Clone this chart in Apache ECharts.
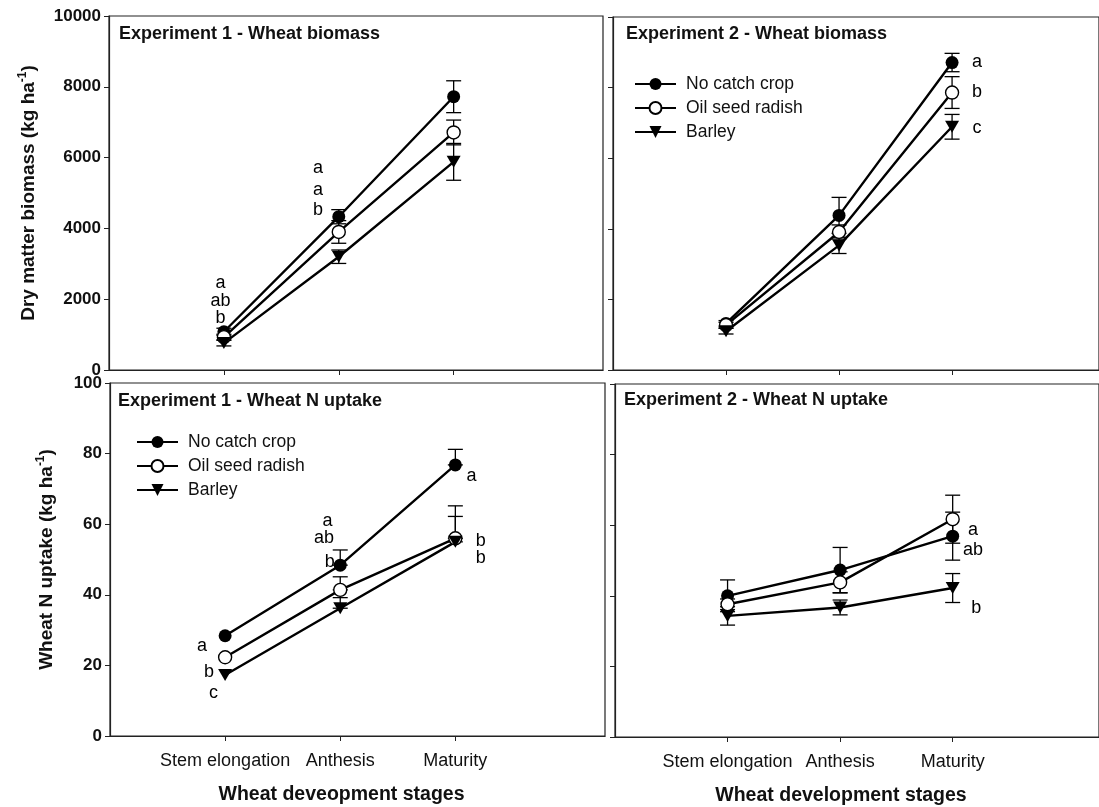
<!DOCTYPE html>
<html>
<head>
<meta charset="utf-8">
<script src="https://cdn.jsdelivr.net/npm/echarts@6/dist/echarts.min.js"></script>
<style>
html,body{margin:0;padding:0;background:#fff;}
#chart{width:1099px;height:807px;}
</style>
</head>
<body>
<div id="chart"></div>
<script>
// ---------- DATA ----------
const categories = ['Stem elongation', 'Anthesis', 'Maturity'];
const seriesNames = ['No catch crop', 'Oil seed radish', 'Barley'];
const panelTitles = ['Experiment 1 - Wheat biomass', 'Experiment 2 - Wheat biomass',
                     'Experiment 1 - Wheat N uptake', 'Experiment 2 - Wheat N uptake'];
const xAxisNames = ['Wheat deveopment stages', 'Wheat development stages'];
const biomassTicks = [0, 2000, 4000, 6000, 8000, 10000];
const uptakeTicks = [0, 20, 40, 60, 80, 100];

// Experiment 1 - biomass (kg/ha)
const exp1BiomassNoCatch = [1080, 4330, 7720];
const exp1BiomassRadish  = [930, 3900, 6710];
const exp1BiomassBarley  = [760, 3200, 5880];
const exp1BiomassErrNoCatch = [100, 200, 450];
const exp1BiomassErrRadish  = [80, 320, 350];
const exp1BiomassErrBarley  = [80, 190, 520];

// Experiment 2 - biomass
const exp2BiomassNoCatch = [1320, 4380, 8710];
const exp2BiomassRadish  = [1270, 3910, 7860];
const exp2BiomassBarley  = [1100, 3530, 6890];
const exp2BiomassErrNoCatch = [80, 510, 260];
const exp2BiomassErrRadish  = [80, 200, 450];
const exp2BiomassErrBarley  = [80, 230, 350];

// Experiment 1 - N uptake (kg/ha), upper error bars only
const exp1UptakeNoCatch = [28.4, 48.4, 76.8];
const exp1UptakeRadish  = [22.3, 41.4, 56.0];
const exp1UptakeBarley  = [17.3, 36.2, 55.0];
const exp1UptakeErrNoCatch = [0, 4.3, 4.4];
const exp1UptakeErrRadish  = [0, 3.7, 9.2];
const exp1UptakeErrBarley  = [0, 3.0, 7.2];

// Experiment 2 - N uptake
const exp2UptakeNoCatch = [40.0, 47.3, 56.9];
const exp2UptakeRadish  = [37.6, 43.8, 61.7];
const exp2UptakeBarley  = [34.3, 36.7, 42.2];
const exp2UptakeErrNoCatch = [4.5, 6.4, 6.8];
const exp2UptakeErrRadish  = [1.5, 3.0, 6.8];
const exp2UptakeErrBarley  = [2.6, 2.1, 4.1];

// significance letters: [x position (stage index 1..3), y value, letter]
const exp1BiomassLetters = [[0.97, 2458, 'a'], [0.97, 1949, 'ab'], [0.97, 1469, 'b'],
                            [1.82, 5706, 'a'], [1.82, 5085, 'a'], [1.82, 4520, 'b']];
const exp2BiomassLetters = [[3.22, 8729, 'a'], [3.22, 7881, 'b'], [3.22, 6864, 'c']];
const exp1UptakeLetters  = [[0.80, 25.5, 'a'], [0.86, 18.2, 'b'], [0.90, 12.3, 'c'],
                            [1.89, 60.9, 'a'], [1.86, 56.1, 'ab'], [1.91, 49.4, 'b'],
                            [3.14, 73.7, 'a'], [3.22, 55.3, 'b'], [3.22, 50.4, 'b']];
const exp2UptakeLetters  = [[3.18, 58.6, 'a'], [3.18, 53.0, 'ab'], [3.21, 36.5, 'b']];

// ---------- BUILD ----------
const FONT = '"Liberation Sans", Arial, Helvetica, sans-serif';
const panels = [
  { means: [exp1BiomassNoCatch, exp1BiomassRadish, exp1BiomassBarley],
    errs: [exp1BiomassErrNoCatch, exp1BiomassErrRadish, exp1BiomassErrBarley], mode: 'both', letters: exp1BiomassLetters },
  { means: [exp2BiomassNoCatch, exp2BiomassRadish, exp2BiomassBarley],
    errs: [exp2BiomassErrNoCatch, exp2BiomassErrRadish, exp2BiomassErrBarley], mode: 'both', letters: exp2BiomassLetters },
  { means: [exp1UptakeNoCatch, exp1UptakeRadish, exp1UptakeBarley],
    errs: [exp1UptakeErrNoCatch, exp1UptakeErrRadish, exp1UptakeErrBarley], mode: 'up', letters: exp1UptakeLetters },
  { means: [exp2UptakeNoCatch, exp2UptakeRadish, exp2UptakeBarley],
    errs: [exp2UptakeErrNoCatch, exp2UptakeErrRadish, exp2UptakeErrBarley], mode: 'both', letters: exp2UptakeLetters }
];

const grids = [
  { left: 109, top: 16, width: 494, height: 354 },
  { left: 613, top: 17, width: 494, height: 353 },
  { left: 110, top: 383, width: 495, height: 353 },
  { left: 615, top: 384, width: 494, height: 353 }
].map(g => Object.assign(g, { show: true, borderColor: '#222', borderWidth: 1.2, backgroundColor: 'transparent' }));

const stagePos = categories.map((c, i) => i + 1);

const xAxes = grids.map((g, i) => ({
  type: 'value', gridIndex: i, min: 0, max: 4.3,
  splitLine: { show: false },
  axisLine: { lineStyle: { color: '#222', width: 1.2 } },
  axisTick: { show: true, inside: false, length: 5, customValues: stagePos, lineStyle: { color: '#222' } },
  axisLabel: {
    show: i >= 2, customValues: stagePos, margin: 16,
    formatter: v => categories[Math.round(v) - 1] || '',
    fontFamily: FONT, fontSize: 18, color: '#111'
  },
  name: i >= 2 ? xAxisNames[i - 2] : '',
  nameLocation: 'middle', nameGap: 49,
  nameTextStyle: { fontFamily: FONT, fontSize: 19.5, fontWeight: 'bold', color: '#111', padding: [0, 32, 0, 0] }
}));

const yAxes = grids.map((g, i) => {
  const top = i < 2;
  const ticks = top ? biomassTicks : uptakeTicks;
  return {
    type: 'value', gridIndex: i, min: ticks[0], max: ticks[ticks.length - 1],
    interval: ticks[1] - ticks[0],
    splitLine: { show: false },
    axisLine: { show: true, lineStyle: { color: '#222', width: 1.2 } },
    axisTick: { show: true, inside: false, length: 5, lineStyle: { color: '#222' } },
    axisLabel: { show: i % 2 === 0, margin: 8, fontFamily: FONT, fontSize: 17, fontWeight: 'bold', color: '#111',
                 showMinLabel: true, showMaxLabel: true, formatter: v => String(v) },
    name: i === 0 ? 'Dry matter biomass (kg ha{s|-1})' : (i === 2 ? 'Wheat N uptake (kg ha{s|-1})' : ''),
    nameLocation: 'middle', nameGap: i === 0 ? 69 : 52,
    nameTextStyle: {
      fontFamily: FONT, fontSize: 19, fontWeight: 'bold', color: '#111',
      rich: { s: { fontFamily: FONT, fontSize: 12, fontWeight: 'bold', color: '#111', verticalAlign: 'top', lineHeight: 23 } }
    }
  };
});

const symbols = ['circle', 'circle', 'path://M0,0L12,0L6,10Z'];
const symbolSizes = [13, 13, [14, 12]];
const fills = ['#000', '#fff', '#000'];

const series = [];
panels.forEach((p, gi) => {
  // error bars
  const errData = [];
  p.means.forEach((m, si) => {
    m.forEach((v, k) => {
      const e = p.errs[si][k];
      if (e > 0) errData.push([stagePos[k], p.mode === 'up' ? v : v - e, v + e]);
    });
  });
  series.push({
    type: 'custom', xAxisIndex: gi, yAxisIndex: gi, z: 2, silent: true,
    data: errData,
    renderItem: (params, api) => {
      const x = api.value(0);
      const a = api.coord([x, api.value(1)]);
      const b = api.coord([x, api.value(2)]);
      const w = 7.5;
      const st = { stroke: '#000', lineWidth: 1.3 };
      return { type: 'group', children: [
        { type: 'line', shape: { x1: a[0], y1: a[1], x2: b[0], y2: b[1] }, style: st },
        { type: 'line', shape: { x1: b[0] - w, y1: b[1], x2: b[0] + w, y2: b[1] }, style: st },
        { type: 'line', shape: { x1: a[0] - w, y1: a[1], x2: a[0] + w, y2: a[1] }, style: st }
      ]};
    }
  });
  // lines
  p.means.forEach((m, si) => {
    series.push({
      type: 'line', name: seriesNames[si], xAxisIndex: gi, yAxisIndex: gi, z: 3,
      data: m.map((v, k) => [stagePos[k], v]),
      symbol: symbols[si], symbolSize: symbolSizes[si], showAllSymbol: true,
      lineStyle: { color: '#000', width: 2.4 },
      itemStyle: { color: fills[si], borderColor: '#000', borderWidth: si === 1 ? 1.4 : 0 },
      emphasis: { disabled: true },
      animation: false
    });
  });
  // letters
  series.push({
    type: 'scatter', xAxisIndex: gi, yAxisIndex: gi, z: 4, symbolSize: 0, silent: true,
    itemStyle: { color: 'transparent', opacity: 1 },
    data: p.letters.map(l => ({ value: [l[0], l[1]], label: { formatter: l[2] } })),
    label: { show: true, position: 'inside', fontFamily: FONT, fontSize: 18, color: '#000', opacity: 1,
             textBorderWidth: 0, textBorderColor: 'transparent' },
    emphasis: { disabled: true }
  });
});

const titleCenters = [[119, 35], [626, 35], [118, 402], [624, 401]];
const titles = panelTitles.map((t, i) => ({
  text: t, left: titleCenters[i][0] - 5, top: titleCenters[i][1] - 15,
  textStyle: { fontFamily: FONT, fontSize: 18, fontWeight: 'bold', color: '#111' }
}));

const legendBase = {
  data: seriesNames, orient: 'vertical', itemWidth: 41, itemHeight: 15, itemGap: 4,
  textStyle: { fontFamily: FONT, fontSize: 17.5, color: '#111', lineHeight: 20, padding: [0, 0, 0, 5] },
  selectedMode: false, padding: 0
};

const option = {
  animation: false,
  backgroundColor: '#fff',
  title: titles,
  legend: [
    Object.assign({}, legendBase, { left: 634, top: 74 }),
    Object.assign({}, legendBase, { left: 136, top: 432 })
  ],
  grid: grids,
  xAxis: xAxes,
  yAxis: yAxes,
  series: series
};

const chart = echarts.init(document.getElementById('chart'), null, { renderer: 'canvas' });
chart.setOption(option);
</script>
</body>
</html>
